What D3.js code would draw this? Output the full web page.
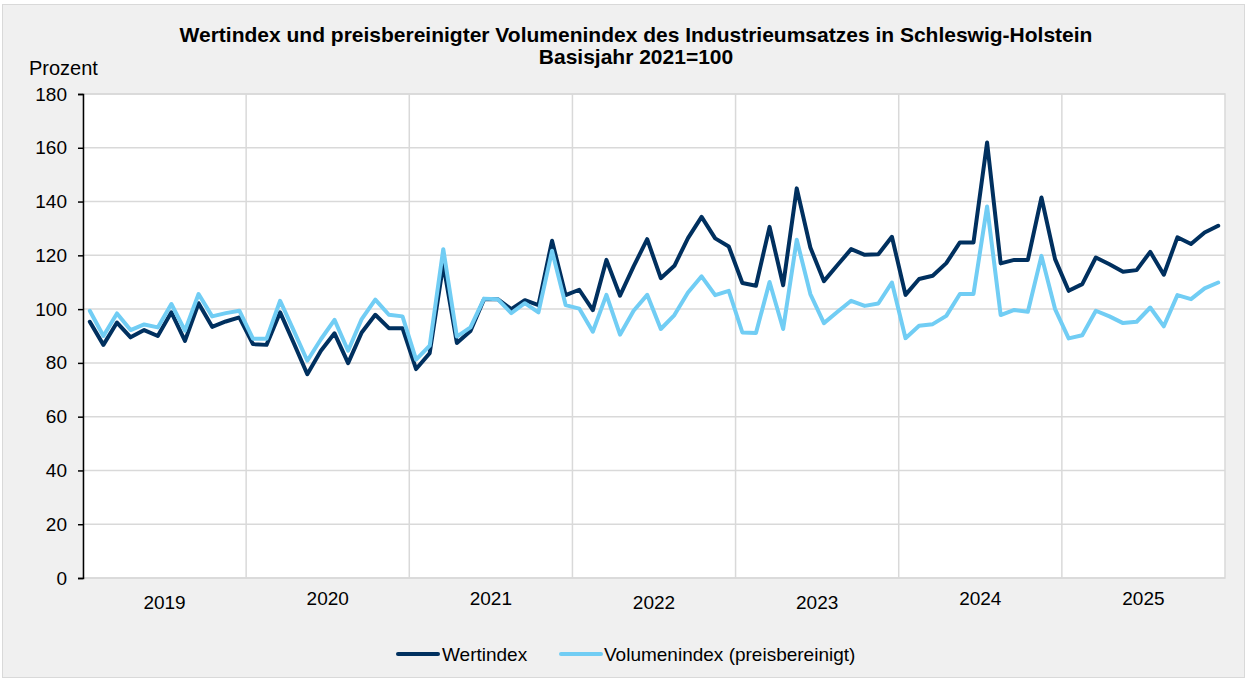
<!DOCTYPE html>
<html><head><meta charset="utf-8">
<script src="https://cdn.jsdelivr.net/npm/d3@7"></script>
<style>html,body{margin:0;padding:0;background:#fff;}svg{display:block;font-family:"Liberation Sans",Arial,sans-serif;}</style>
</head><body>
<script>
const years = ["2019","2020","2021","2022","2023","2024","2025"];
const wertindex = [
 95.3, 86.7, 95, 89.5, 92.2, 90, 98.8, 88.2, 102.2, 93.4, 95.4, 96.9,
 87, 86.7, 98.8, 87.4, 75.8, 84.5, 91, 79.9, 91.3, 97.9, 92.9, 92.9,
 77.7, 83.6, 116.7, 87.4, 91.9, 103.7, 103.7, 100, 103.3, 101.5, 125.4, 105.2,
 107.2, 99.6, 118.3, 105, 115.9, 126, 111.5, 116.1, 126.4, 134.3, 126.3, 123.3,
 109.7, 108.7, 130.6, 108.9, 144.9, 122.9, 110.4, 116.4, 122.3, 120.2, 120.4, 126.9,
 105.3, 111.2, 112.4, 117.1, 124.8, 124.8, 162, 117, 118.3, 118.3, 141.5, 118.6,
 106.8, 109.3, 119.2, 116.7, 113.9, 114.5, 121.3, 112.8, 126.7, 124.2, 128.5, 131
];
const volumenindex = [
 99.4, 90, 98.4, 92.2, 94.3, 93.2, 101.9, 92, 105.6, 97.3, 98.5, 99.4,
 89, 89, 103.1, 92, 80.8, 88.8, 96, 84.5, 96.3, 103.5, 97.9, 97.3,
 81.2, 86.4, 122.3, 89.8, 93.2, 103.9, 103.7, 98.5, 102.2, 98.8, 121.7, 101.5,
 100.2, 91.6, 105.3, 90.5, 99.4, 105.3, 92.6, 97.8, 106.2, 112.2, 105.2, 106.8,
 91.3, 91.1, 110.1, 92.6, 125.8, 105.6, 94.8, 99, 103.1, 101.2, 102.1, 109.9,
 89.2, 93.8, 94.4, 97.5, 105.6, 105.6, 138.2, 97.8, 99.7, 99, 119.8, 100,
 89.1, 90.3, 99.4, 97.3, 94.8, 95.3, 100.6, 93.6, 105.2, 103.7, 107.7, 109.9
];
const yTicks = [0,20,40,60,80,100,120,140,160,180];
const seriesNames = ["Wertindex","Volumenindex (preisbereinigt)"];
const titleLines = ["Wertindex und preisbereinigter Volumenindex des Industrieumsatzes in Schleswig-Holstein","Basisjahr 2021=100"];

const W=1245,H=678;
const colors=["#00305f","#71cdf4"];
const m={l:83,r:1225,t:94,b:578};
const svg=d3.select("body").append("svg").attr("width",W).attr("height",H);
svg.append("rect").attr("x",2.5).attr("y",4.5).attr("width",W-3).attr("height",H-5).attr("fill","#f0f0f0").attr("stroke","#d9d9d9");

const n=wertindex.length;
const x=d3.scaleBand().domain(d3.range(n)).range([m.l,m.r]);
const xYear=d3.scaleBand().domain(years).range([m.l,m.r]);
const y=d3.scaleLinear().domain([0,180]).range([m.b,m.t]);

svg.append("rect").attr("x",m.l).attr("y",m.t).attr("width",m.r-m.l).attr("height",m.b-m.t).attr("fill","#fff").attr("stroke","#d9d9d9").attr("stroke-width",1.5);

svg.append("g").selectAll("line").data(yTicks.filter(d=>d>0)).join("line")
 .attr("x1",m.l).attr("x2",m.r).attr("y1",d=>y(d)).attr("y2",d=>y(d))
 .attr("stroke","#d9d9d9").attr("stroke-width",1.5);
svg.append("g").selectAll("line").data(years.slice(1)).join("line")
 .attr("x1",d=>xYear(d)).attr("x2",d=>xYear(d)).attr("y1",m.t).attr("y2",m.b)
 .attr("stroke","#d9d9d9").attr("stroke-width",1.5);
svg.append("line").attr("x1",m.l).attr("x2",m.r).attr("y1",m.b).attr("y2",m.b).attr("stroke","#d9d9d9").attr("stroke-width",1.5);

const ya=svg.append("g").attr("transform",`translate(${m.l},0)`)
 .call(d3.axisLeft(y).tickValues(yTicks).tickSize(5).tickPadding(11));
ya.select(".domain").attr("stroke","#000").attr("stroke-width",1.5);
ya.selectAll(".tick line").attr("stroke","#000").attr("stroke-width",1.5);
ya.selectAll("text").attr("font-size",19).attr("fill","#000").attr("font-family","Liberation Sans, Arial, sans-serif");

const yearDy={"2019":4,"2020":0,"2021":0,"2022":4,"2023":4,"2024":0,"2025":0};
svg.append("g").selectAll("text").data(years).join("text")
 .attr("x",d=>xYear(d)+xYear.bandwidth()/2).attr("y",d=>605+yearDy[d])
 .attr("text-anchor","middle").attr("font-size",19).attr("fill","#000").text(d=>d);

const line=d3.line().x((d,i)=>x(i)+x.bandwidth()/2).y(d=>y(d));
[wertindex,volumenindex].forEach((s,k)=>{
 svg.append("path").datum(s).attr("d",line).attr("fill","none")
  .attr("stroke",colors[k]).attr("stroke-width",4).attr("stroke-linejoin","round").attr("stroke-linecap","round");
});

svg.append("g").selectAll("text").data(titleLines).join("text")
 .attr("x",636).attr("y",(d,i)=>42+i*22).attr("text-anchor","middle")
 .attr("font-size",21).attr("font-weight","bold").attr("fill","#000").text(d=>d);
svg.append("text").attr("x",29).attr("y",75).attr("font-size",20).attr("fill","#000").text("Prozent");

const lg=[{x:398,tx:442},{x:561,tx:604}];
seriesNames.forEach((s,k)=>{
 svg.append("line").attr("x1",lg[k].x).attr("x2",lg[k].x+40).attr("y1",654).attr("y2",654)
  .attr("stroke",colors[k]).attr("stroke-width",4).attr("stroke-linecap","round");
 svg.append("text").attr("x",lg[k].tx).attr("y",661).attr("font-size",19).attr("fill","#000").text(s);
});
</script>
</body></html>
